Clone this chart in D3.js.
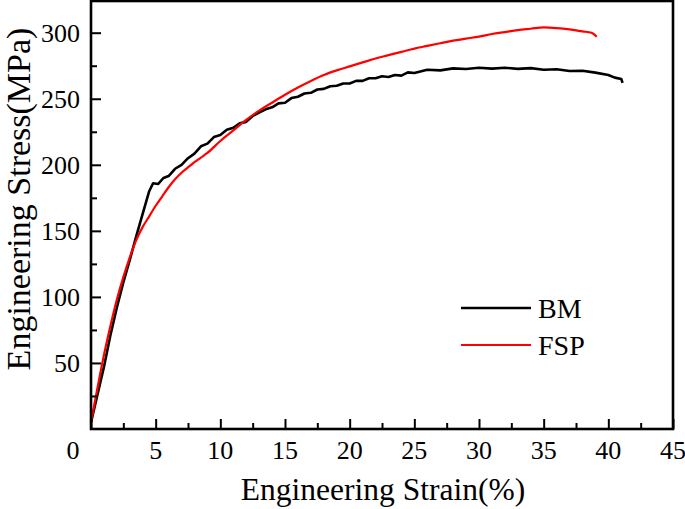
<!DOCTYPE html>
<html>
<head>
<meta charset="utf-8">
<script src="https://cdn.jsdelivr.net/npm/d3@7"></script>
<style>
	body { margin: 0; background: #fff; }
	svg text { font-family: "Liberation Serif", "Times New Roman", serif; fill: #000; }
</style>
</head>
<body>
<svg id="chart" width="685" height="509"></svg>
<script>
// Tensile curves (strain %, stress MPa)
let bm_strain = [0, 0.5, 1.0, 1.5, 2.0, 2.5, 3.0, 3.5, 4.0, 4.5, 4.8, 5.2, 5.6, 6.0, 6.5, 7.0, 7.5, 8.0, 8.5, 9.0, 9.5, 10.0, 10.5, 11.0, 11.5, 12.0, 12.5, 13.0, 13.5, 14.0, 14.5, 15.0, 15.5, 16.0, 16.5, 17.0, 17.5, 18.0, 18.5, 19.0, 19.5, 20.0, 20.5, 21.0, 21.5, 22.0, 22.5, 23.0, 23.5, 24.0, 24.5, 25.0, 26.0, 27.0, 28.0, 29.0, 30.0, 31.0, 32.0, 33.0, 34.0, 35.0, 36.0, 37.0, 38.0, 39.0, 40.0, 40.5, 41.0, 41.1];
let bm_stress = [5, 26, 47, 71, 92, 111, 128, 146, 163, 180, 186, 185.5, 190, 191.5, 197, 200, 205, 208.5, 214, 216, 221, 222.5, 226.5, 228, 231.5, 232.5, 237, 239.5, 242, 243.5, 246.5, 247, 250.5, 251.5, 254, 254.5, 257, 257.5, 259.5, 259.8, 261.5, 261.5, 263.5, 263.5, 265.5, 265.5, 267, 266.5, 268, 267.5, 270, 269.5, 272, 271.5, 273, 272.5, 273.5, 272.8, 273.5, 272.6, 273.2, 272, 272.3, 271, 271.2, 269.8, 268, 266, 265, 262];

let fsp_strain = [0, 0.5, 1.0, 1.5, 2.0, 2.5, 3.0, 3.5, 4.0, 4.5, 5.0, 5.5, 6.0, 6.5, 7.0, 7.5, 8.0, 8.5, 9.0, 10, 11, 12, 13, 14, 15, 16, 17, 18, 19, 20, 21, 22, 23, 24, 25, 26, 27, 28, 29, 30, 31, 32, 33, 34, 35, 36, 37, 38, 38.7, 39.1];
let fsp_stress = [5, 31, 56, 78, 98, 115, 130, 143, 153, 161, 169, 176, 183, 189, 194, 198, 202, 205.5, 209, 218, 226, 234, 241, 247, 253, 258.5, 263.5, 268, 271.5, 274.5, 277.5, 280.5, 283, 285.5, 288, 290, 292, 294, 295.5, 297, 299, 300.5, 302, 303, 304, 303.5, 302.5, 301, 300, 297];

let series_names = ["BM", "FSP"];
let series_colors = ["#000000", "#ff0000"];

let x_major = [0, 5, 10, 15, 20, 25, 30, 35, 40, 45];
let x_minor = [2.5, 7.5, 12.5, 17.5, 22.5, 27.5, 32.5, 37.5, 42.5];
let y_major = [50, 100, 150, 200, 250, 300];
let y_minor = [25, 75, 125, 175, 225, 275];

let svg = d3.select("#chart");
let plot_left = 91, plot_right = 673, plot_top = 1, plot_bottom = 429;

let x = d3.scaleLinear().domain([0, 45]).range([plot_left, plot_right]);
let y = d3.scaleLinear().domain([0, 324]).range([plot_bottom, plot_top]);

// Curves
let line = d3.line()
	.x(function(d) { return x(d[0]); })
	.y(function(d) { return y(d[1]); });

svg.append("path")
	.attr("d", line(d3.zip(bm_strain, bm_stress)))
	.attr("fill", "none")
	.attr("stroke", series_colors[0])
	.attr("stroke-width", 2.6)
	.attr("stroke-linejoin", "round");

svg.append("path")
	.attr("d", line.curve(d3.curveMonotoneX)(d3.zip(fsp_strain, fsp_stress)))
	.attr("fill", "none")
	.attr("stroke", series_colors[1])
	.attr("stroke-width", 2.2)
	.attr("stroke-linejoin", "round");

// Axes, ticks pointing inward
svg.append("g")
	.attr("transform", "translate(0," + plot_bottom + ")")
	.call(d3.axisTop(x).tickValues(x_major).tickSize(10).tickFormat(""));
svg.append("g")
	.attr("transform", "translate(0," + plot_bottom + ")")
	.call(d3.axisTop(x).tickValues(x_minor).tickSize(6).tickFormat(""));

svg.append("g")
	.attr("transform", "translate(" + plot_left + ",0)")
	.call(d3.axisRight(y).tickValues(y_major).tickSize(10).tickFormat(""));
svg.append("g")
	.attr("transform", "translate(" + plot_left + ",0)")
	.call(d3.axisRight(y).tickValues(y_minor).tickSize(6).tickFormat(""));

svg.selectAll(".domain").remove();
svg.selectAll(".tick line").attr("stroke", "#000").attr("stroke-width", 2);

// Frame
svg.append("rect")
	.attr("x", plot_left)
	.attr("y", plot_top)
	.attr("width", plot_right - plot_left)
	.attr("height", plot_bottom - plot_top)
	.attr("fill", "none")
	.attr("stroke", "#000")
	.attr("stroke-width", 2.6);

// Tick labels
svg.append("g").selectAll("text")
	.data(x_major)
	.join("text")
	.attr("x", function(d) { return d === 0 ? x(d) - 18 : x(d); })
	.attr("y", 459)
	.attr("text-anchor", "middle")
	.attr("font-size", 26)
	.text(function(d) { return d; });

svg.append("g").selectAll("text")
	.data(y_major)
	.join("text")
	.attr("x", 80)
	.attr("y", function(d) { return y(d); })
	.attr("dy", "0.35em")
	.attr("text-anchor", "end")
	.attr("font-size", 26)
	.text(function(d) { return d; });

// Axis titles
svg.append("text")
	.attr("x", 383)
	.attr("y", 500)
	.attr("text-anchor", "middle")
	.attr("font-size", 31.5)
	.text("Engineering Strain(%)");

svg.append("text")
	.attr("transform", "translate(30,199) rotate(-90)")
	.attr("text-anchor", "middle")
	.attr("font-size", 34)
	.text("Engineering Stress(MPa)");

// Legend
let legend = svg.append("g").selectAll("g")
	.data(series_names)
	.join("g")
	.attr("transform", function(d, i) { return "translate(461," + (308 + i * 37) + ")"; });

legend.append("line")
	.attr("x1", 0)
	.attr("x2", 70)
	.attr("stroke", function(d, i) { return series_colors[i]; })
	.attr("stroke-width", function(d, i) { return i === 0 ? 2.6 : 2.2; });

legend.append("text")
	.attr("x", 77)
	.attr("dy", "0.35em")
	.attr("font-size", 28)
	.text(function(d) { return d; });
</script>
</body>
</html>
